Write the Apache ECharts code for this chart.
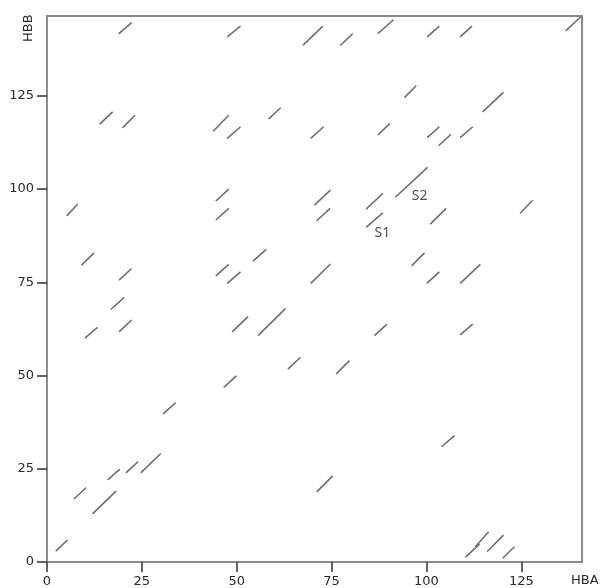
<!DOCTYPE html>
<html>
<head>
<meta charset="utf-8">
<script src="https://cdn.jsdelivr.net/npm/echarts@6/dist/echarts.min.js"></script>
<style>html,body{margin:0;padding:0;background:#fff}#c{width:603px;height:588px}</style>
</head>
<body>
<div id="c"></div>
<script>
// Diagonal match segments (HBA position -> HBB position)
const segStartX = [18.9,13.9,19.9,47.5,67.5,77.3,87.2,43.8,47.5,58.4,69.5,87.2,100.2,108.9,136.7,94.2,114.8,100.2,103.2,108.9,91.8,
  5.2,9.1,19.0,16.8,10.0,19.0,44.5,44.5,70.5,71.1,84.1,84.1,54.3,44.5,47.5,69.5,48.8,55.6,86.3,63.5,76.2,46.6,
  124.7,101.0,96.1,100.1,108.9,108.9,30.6,7.1,12.0,16.0,20.8,24.7,2.3,71.1,104.0,110.3,112.9,116.0,120.1];
const segStartY = [141.6,117.4,116.4,140.8,138.6,138.5,141.7,115.5,113.6,118.8,113.6,114.5,140.8,140.8,142.4,124.5,120.7,113.8,111.6,113.8,97.8,
  92.8,79.6,75.6,67.7,60.0,61.7,96.8,91.7,95.7,91.5,94.6,89.7,80.7,76.7,74.7,74.7,61.7,60.7,60.7,51.7,50.4,46.8,
  93.5,90.6,79.4,74.7,74.7,60.9,39.7,16.9,12.9,22.0,23.9,23.9,2.9,18.8,30.9,1.3,4.1,2.8,1.0];
const segEndX = [22.3,17.3,23.2,51.0,72.7,80.6,91.3,47.9,51.0,61.6,72.9,90.4,103.4,112.0,140.7,97.3,120.3,103.4,106.5,112.2,100.3,
  8.1,12.4,22.3,20.3,13.3,22.3,47.9,47.9,74.7,74.6,88.5,88.5,57.8,47.9,51.0,74.7,53.0,62.9,89.6,66.8,79.7,49.9,
  128.0,105.2,99.5,103.4,114.2,112.2,33.9,10.3,18.2,19.2,24.0,30.0,5.4,75.3,107.4,114.0,116.4,120.3,123.2];
const segEndY = [144.6,120.7,119.8,143.7,143.7,141.7,145.4,119.8,116.7,121.8,116.7,117.6,143.7,143.7,146.2,127.7,125.9,116.7,114.7,116.7,105.8,
  96.0,82.9,78.7,70.9,62.9,64.9,100.0,94.8,99.7,94.8,98.8,93.6,83.8,79.8,77.8,79.9,65.8,68.0,63.8,54.9,54.0,49.9,
  97.0,94.8,82.9,77.8,79.8,63.8,42.7,19.9,19.0,24.9,26.9,29.1,5.9,23.1,33.9,4.8,8.1,7.2,4.1];

const annotNames = ['S1','S2'];
const annotX = [88.4, 98.2];
const annotY = [88.2, 98.1];

const xTicks = [0,25,50,75,100,125];
const yTicks = [0,25,50,75,100,125];

const segData = segStartX.map((x, i) => ({coords: [[x, segStartY[i]], [segEndX[i], segEndY[i]]]}));
const annotData = annotNames.map((n, i) => ({name: n, value: [annotX[i], annotY[i]]}));

const chart = echarts.init(document.getElementById('c'), null, {renderer: 'canvas'});
const axisFont = {fontFamily: 'DejaVu Sans', fontSize: 13, color: '#2a2a2a'};
chart.setOption({
  animation: false,
  backgroundColor: '#fff',
  grid: {left: 47, right: 21, top: 16, bottom: 26, show: true, borderColor: '#8a8a8a', borderWidth: 2},
  xAxis: {
    type: 'value', min: 0, max: 141, interval: 25,
    axisLine: {show: true, onZero: false, lineStyle: {color: '#8a8a8a', width: 2}},
    axisTick: {show: true, length: 10, inside: false, lineStyle: {color: '#333', width: 1.5},
      customValues: xTicks},
    axisLabel: Object.assign({margin: 13, customValues: xTicks}, axisFont),
    splitLine: {show: false}
  },
  yAxis: {
    type: 'value', min: 0, max: 146.4, interval: 25,
    axisLine: {show: true, onZero: false, lineStyle: {color: '#8a8a8a', width: 2}},
    axisTick: {show: true, length: 10, lineStyle: {color: '#333', width: 1.5}, customValues: yTicks},
    axisLabel: Object.assign({margin: 13, customValues: yTicks}, axisFont),
    splitLine: {show: false}
  },
  graphic: [
    {type: 'text', left: 571, top: 574, style: {text: 'HBA', font: '13px "DejaVu Sans"', fill: '#2a2a2a'}},
    {type: 'text', x: 22, y: 42, rotation: Math.PI / 2, style: {text: 'HBB', font: '13px "DejaVu Sans"', fill: '#2a2a2a'}}
  ],
  series: [
    {
      type: 'lines', coordinateSystem: 'cartesian2d', polyline: false,
      lineStyle: {color: '#6e6e6e', width: 1.6, opacity: 1},
      data: segData, silent: true
    },
    {
      type: 'scatter', symbolSize: 0, data: annotData, silent: true,
      label: {show: true, position: 'inside', formatter: '{b}', fontFamily: 'Noto Sans', fontSize: 14, color: '#222'}
    }
  ]
});
</script>
</body>
</html>
